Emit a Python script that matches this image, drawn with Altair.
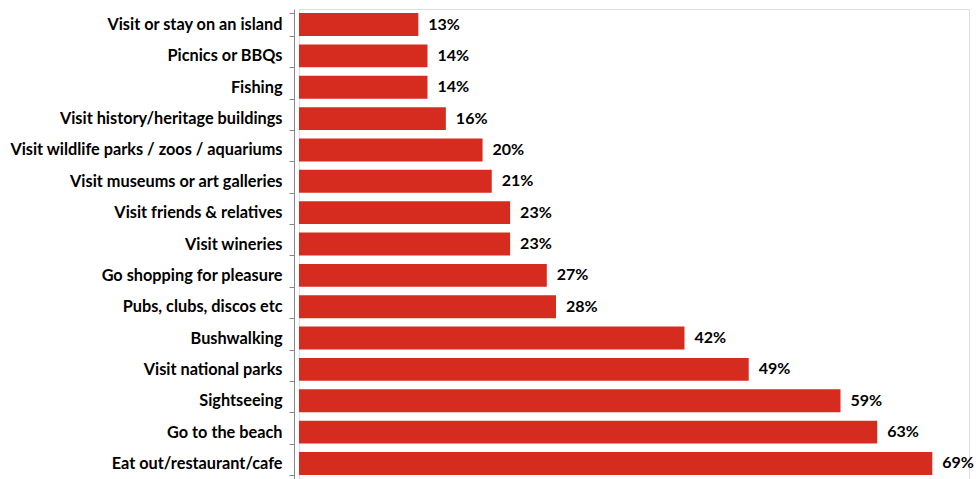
import altair as alt
import pandas as pd

activities = [
    "Visit or stay on an island\u00a0",
    "Picnics or BBQs",
    "Fishing",
    "Visit history/heritage buildings",
    "Visit wildlife parks / zoos / aquariums",
    "Visit museums or art galleries",
    "Visit friends & relatives",
    "Visit wineries",
    "Go shopping for pleasure",
    "Pubs, clubs, discos etc",
    "Bushwalking",
    "Visit national parks",
    "Sightseeing",
    "Go to the beach\u00a0",
    "Eat out/restaurant/cafe",
]
values = [13, 14, 14, 16, 20, 21, 23, 23, 27, 28, 42, 49, 59, 63, 69]

df = pd.DataFrame({"activity": activities, "value": values})
df["label"] = df["value"].astype(str) + "%"

FONT = "Lato"

y = alt.Y(
    "activity:N",
    sort=activities,
    scale=alt.Scale(paddingInner=0.27, paddingOuter=0.13),
    axis=alt.Axis(
        title=None,
        offset=5,
        domainColor="#868686",
        tickColor="#868686",
        tickBand="extent",
        tickSize=5,
        labelPadding=7,
        labelFont=FONT,
        labelFontSize=16.3,
        labelFontWeight="bold",
        labelColor="#000000",
        labelLimit=400,
    ),
)
x = alt.X("value:Q", scale=alt.Scale(domain=[0, 73], nice=False), axis=None)

bars = alt.Chart(df).mark_bar(color="#D62B1F").encode(x=x, y=y)
text = alt.Chart(df).mark_text(
    align="left", baseline="middle", dx=10, font=FONT, fontSize=16,
    fontWeight="bold", color="#000000"
).encode(x=x, y=y, text="label:N")

chart = (bars + text).properties(
    width=670,
    height=470,
    autosize=alt.AutoSizeParams(type="none"),
    padding={"left": 299, "top": 9, "right": 7, "bottom": 0},
).configure_view(stroke=None).configure(background="white")

chart.save("out.html", embed_options={"renderer": "svg", "actions": False})
